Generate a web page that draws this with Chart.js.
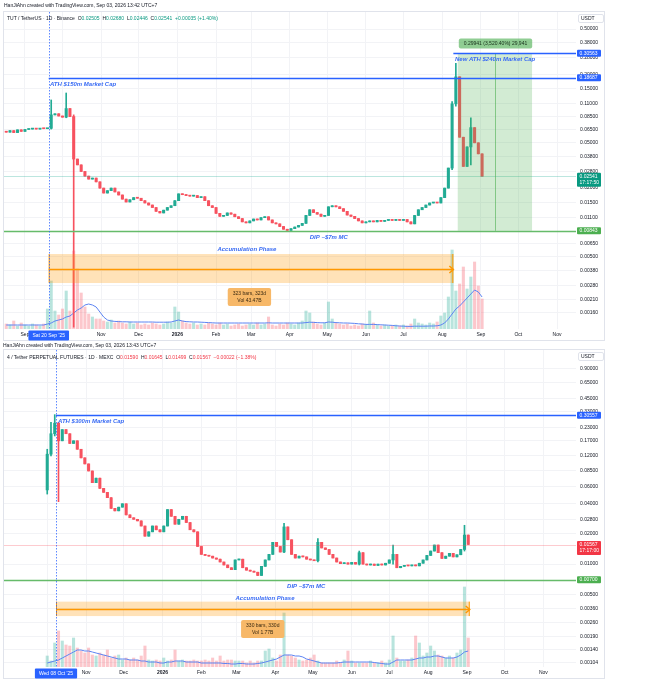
<!DOCTYPE html>
<html>
<head>
<meta charset="utf-8">
<script src="https://cdn.jsdelivr.net/npm/chart.js@4.4.1/dist/chart.umd.min.js"></script>
<style>
  body { margin: 0; background: #fff; }
  #page { position: relative; width: 654px; height: 680px; overflow: hidden; font-family: "Liberation Sans", Arial, sans-serif; }
  .chart { position: absolute; left: 0; }
  .txt { position: absolute; font-size: 5px; line-height: 6px; color: #131722; white-space: nowrap; }
  .up { color: #089981; }
  .dn { color: #f23645; }
</style>
</head>
<body>
<div id="page">
  <canvas id="topChart" class="chart" width="606" height="342" style="top:0"></canvas>
  <canvas id="botChart" class="chart" width="606" height="342" style="top:338px"></canvas>

  <div class="txt" style="left:4px;top:2px">HanJiAhn created with TradingView.com, Sep 03, 2026 13:42 UTC+7</div>
  <div class="txt" style="left:7px;top:15px">TUT / TetherUS · 1D · Binance&nbsp; O<span class="up">0.02505</span>&nbsp; H<span class="up">0.02680</span>&nbsp; L<span class="up">0.02446</span>&nbsp; C<span class="up">0.02541</span>&nbsp; <span class="up">+0.00035 (+1.40%)</span></div>

  <div class="txt" style="left:3px;top:342px">HanJiAhn created with TradingView.com, Sep 03, 2026 13:43 UTC+7</div>
  <div class="txt" style="left:7px;top:354px">4 / Tether PERPETUAL FUTURES · 1D · MEXC&nbsp; O<span class="dn">0.01590</span>&nbsp; H<span class="dn">0.01645</span>&nbsp; L<span class="dn">0.01499</span>&nbsp; C<span class="dn">0.01567</span>&nbsp; <span class="dn">−0.00022 (−1.38%)</span></div>
</div>

<script>
// days are counted from 1 Sep 2025, one candle every 3 days
const BAR_STEP = 3;
const MONTH_DAYS = [0, 30, 61, 91, 122, 153, 181, 212, 242, 273, 303, 334, 365, 395, 426];
const MONTH_LABELS = ['Sep', 'Oct', 'Nov', 'Dec', '2026', 'Feb', 'Mar', 'Apr', 'May', 'Jun', 'Jul', 'Aug', 'Sep', 'Oct', 'Nov'];

// ---- TUT / TetherUS (Binance) ----
const topStartDay = -15;
const topFirstOpen = 0.0630;
const topClose = [
  0.0620, 0.0640, 0.0615, 0.0650, 0.0630, 0.0655, 0.0660, 0.0665, 0.0660, 0.0668, 0.0665, 0.0670,
  0.0880, 0.0900, 0.0860, 0.0840, 0.1000, 0.0850, 0.0360, 0.0320, 0.0280, 0.0255, 0.0240, 0.0245,
  0.0227, 0.0200, 0.0181, 0.0190, 0.0200, 0.0185, 0.0174, 0.0160, 0.0151, 0.0158, 0.0165, 0.0163,
  0.0155, 0.0148, 0.0142, 0.0135, 0.0125, 0.0121, 0.0128, 0.0135, 0.0140, 0.0155, 0.0178, 0.0175,
  0.0172, 0.0170, 0.0172, 0.0165, 0.0168, 0.0155, 0.0140, 0.0135, 0.0120, 0.0113, 0.0115, 0.0121,
  0.0118, 0.0112, 0.0108, 0.0101, 0.0099, 0.0103, 0.0107, 0.0105, 0.0110, 0.0112, 0.0105, 0.0099,
  0.0097, 0.0092, 0.0087, 0.0085, 0.0088, 0.0091, 0.0094, 0.0098, 0.0115, 0.0129, 0.0122, 0.0118,
  0.0113, 0.0115, 0.0137, 0.0140, 0.0137, 0.0132, 0.0125, 0.0116, 0.0113, 0.0108, 0.0103, 0.0099,
  0.0101, 0.0103, 0.0101, 0.0104, 0.0102, 0.0104, 0.0105, 0.0104, 0.0106, 0.0104, 0.0106, 0.0101,
  0.0097, 0.0115, 0.0129, 0.0135, 0.0142, 0.0148, 0.0150, 0.0148, 0.0165, 0.0200, 0.0300, 0.1100,
  0.1900, 0.0560, 0.0310, 0.0460, 0.0680, 0.0500, 0.0400, 0.0254
];
// [day, high, low] for the candles with visible wicks
const topWicks = [[21, 0.119, 0.066], [33, 0.137, 0.083], [39, 0.088, 0.0012], [342, 0.115, 0.029], [345, 0.25, 0.105], [357, 0.083, 0.032]];
const topVolume = [
  125, 100, 200, 75, 150, 100, 75, 125, 100, 75, 125, 500,
  1200, 450, 350, 500, 950, 450, 1950, 1500, 900, 550, 375, 300,
  250, 250, 200, 175, 225, 150, 200, 150, 125, 175, 125, 150,
  100, 125, 100, 150, 125, 100, 125, 175, 150, 550, 425, 200,
  150, 125, 150, 100, 125, 100, 150, 125, 100, 150, 100, 125,
  75, 100, 125, 75, 100, 125, 100, 150, 100, 125, 300, 100,
  75, 125, 100, 150, 125, 100, 150, 200, 450, 400, 175, 125,
  100, 150, 675, 250, 150, 125, 100, 125, 75, 100, 75, 125,
  100, 450, 150, 100, 75, 100, 75, 75, 100, 75, 100, 75,
  125, 250, 150, 125, 100, 150, 125, 175, 325, 400, 800, 1975,
  950, 1125, 1550, 1000, 1300, 1675, 1075, 750
];
const topVolMA = [
  100, 100, 100, 100, 100, 100, 100, 100, 100, 100, 100, 125,
  150, 200, 225, 250, 300, 325, 400, 475, 525, 600, 625, 600,
  550, 425, 300, 225, 200, 190, 185, 180, 180, 175, 175, 175,
  175, 175, 175, 175, 170, 170, 170, 170, 175, 200, 225, 200,
  185, 180, 175, 175, 170, 165, 160, 155, 150, 150, 150, 150,
  150, 150, 150, 150, 150, 150, 150, 150, 150, 150, 155, 150,
  150, 150, 150, 150, 150, 150, 150, 150, 160, 170, 165, 160,
  155, 155, 175, 170, 160, 155, 150, 150, 145, 140, 130, 125,
  115, 115, 115, 110, 105, 100, 95, 90, 80, 75, 70, 65,
  65, 70, 70, 70, 70, 75, 75, 80, 100, 150, 250, 375,
  500, 575, 675, 775, 875, 975, 925, 800
];
const topPriceTicks = [0.5, 0.38, 0.28, 0.2, 0.15, 0.11, 0.085, 0.065, 0.05, 0.038, 0.028, 0.02, 0.015, 0.011,
  0.0065, 0.005, 0.0038, 0.0028, 0.0021, 0.0016];

// ---- 4 / Tether perpetual (MEXC) ----
const botStartDay = 30;
const botFirstOpen = 0.055;
const botClose = [
  0.125, 0.200, 0.255, 0.170, 0.220, 0.200, 0.160, 0.170, 0.140, 0.115, 0.100, 0.085,
  0.065, 0.072, 0.057, 0.052, 0.046, 0.036, 0.034, 0.037, 0.040, 0.031, 0.029, 0.028,
  0.027, 0.024, 0.019, 0.021, 0.024, 0.022, 0.021, 0.024, 0.035, 0.030, 0.025, 0.028,
  0.030, 0.026, 0.022, 0.021, 0.015, 0.0125, 0.0122, 0.0120, 0.0115, 0.0112, 0.0105, 0.0098,
  0.0092, 0.0088, 0.0110, 0.0112, 0.0092, 0.0087, 0.0085, 0.0083, 0.0077, 0.0095, 0.0110, 0.0125,
  0.0165, 0.0150, 0.0132, 0.0235, 0.0175, 0.0125, 0.0115, 0.0120, 0.0118, 0.0112, 0.0110, 0.0108,
  0.0165, 0.0145, 0.0140, 0.0125, 0.0115, 0.0105, 0.0101, 0.0103, 0.0100, 0.0104, 0.0100, 0.0130,
  0.0100, 0.0098, 0.0100, 0.0097, 0.0100, 0.0098, 0.0102, 0.0110, 0.0125, 0.0092, 0.0095, 0.0097,
  0.0096, 0.0098, 0.0096, 0.0102, 0.0110, 0.0122, 0.0135, 0.0155, 0.0130, 0.0114, 0.0120, 0.0128,
  0.0118, 0.0124, 0.0140, 0.0195, 0.0157
];
const botWicks = [[30, 0.14, 0.050], [33, 0.26, 0.12], [36, 0.31, 0.19], [39, 0.26, 0.042], [219, 0.0255, 0.013],
  [246, 0.018, 0.0105], [279, 0.0135, 0.0098], [306, 0.0155, 0.010], [363, 0.0244, 0.0135]];
const botVolume = [
  5.5, 3, 12, 18, 13, 11, 10.5, 14.5, 9.5, 8, 7, 9.5,
  6, 5.5, 7, 6, 8.5, 4.5, 5.5, 6, 3.5, 4.5, 3.5, 4.5,
  3.5, 5.5, 10.5, 3.5, 3, 3.5, 3, 4.5, 3, 3.5, 8.5, 3,
  3.5, 3, 3, 3.5, 3, 3, 3.5, 3, 4.5, 3, 5.5, 3,
  3.5, 3.5, 3, 3, 3, 2, 3, 2, 3, 3, 8, 9,
  4.5, 3, 6, 27, 6, 5.5, 4.5, 3.5, 3, 3.5, 4.5, 6,
  3, 2, 2, 2, 2, 3, 2, 3.5, 8, 3, 2, 2,
  2, 2, 3, 2, 2, 3, 2, 3.5, 15.5, 4.5, 3, 3,
  3.5, 4.5, 15.5, 12, 5.5, 7, 10.5, 8, 6, 5.5, 4.5, 5.5,
  4.5, 7, 8.5, 40, 14.5
];
const botVolMA = [
  2, 2.5, 3, 3.5, 4.5, 5.5, 6.5, 7.5, 8.5, 8.5, 8, 8,
  7.5, 7, 6.5, 6, 5.5, 5, 4.5, 4, 4, 4, 3.5, 3.5,
  3.5, 3, 3, 2.5, 2.5, 2.5, 2, 2, 2.5, 2.5, 3, 3,
  3, 2.5, 2.5, 2.5, 2.5, 2, 2, 2, 2, 2, 2, 1.75,
  1.75, 1.5, 1.5, 1.75, 1.75, 1.5, 1.5, 1.5, 1.75, 2, 2.5, 3,
  3.5, 4, 5, 6, 6, 6, 5.5, 5.5, 5, 4, 3.5, 3,
  2.5, 2, 2, 2, 2, 2, 2.25, 2.5, 2.5, 2.5, 2.5, 2.5,
  2.5, 2.5, 2.5, 2.25, 2, 1.75, 1.5, 1.5, 2.5, 3.5, 3.5, 3.5,
  3.5, 3.5, 4, 4.5, 4.5, 5, 5, 5.5, 5.5, 5, 4.5, 4.5,
  4.5, 5, 6, 7.5, 8
];
const botPriceTicks = [0.9, 0.65, 0.45, 0.33, 0.23, 0.17, 0.12, 0.085, 0.06, 0.04, 0.028, 0.02, 0.01,
  0.005, 0.0036, 0.0026, 0.0019, 0.0014, 0.00104];

const UP = '#22ab94';
const DOWN = '#f7525f';
const UP_VOL = 'rgba(34,171,148,0.32)';
const DOWN_VOL = 'rgba(247,82,95,0.32)';
const BLUE = '#2962ff';
const NOTE_BLUE = '#3a6cf4';
const GREEN_LINE = '#66bb6a';
const GRID = '#f2f3f6';
const FONT = '"Liberation Sans", Arial, sans-serif';

function buildCandles(startDay, firstOpen, closes, wicks) {
  return closes.map((c, i) => {
    const day = startDay + i * BAR_STEP;
    const o = i === 0 ? firstOpen : closes[i - 1];
    let hi = Math.max(o, c), lo = Math.min(o, c);
    const w = wicks.find(w => w[0] === day);
    if (w) { hi = Math.max(hi, w[1]); lo = Math.min(lo, w[2]); }
    return { day, o, c, hi, lo, up: c >= o };
  });
}

function line(ctx, x0, y0, x1, y1) {
  ctx.beginPath(); ctx.moveTo(x0, y0); ctx.lineTo(x1, y1); ctx.stroke();
}

function rrect(ctx, x, y, w, h, r) {
  ctx.beginPath();
  if (ctx.roundRect) ctx.roundRect(x, y, w, h, r); else ctx.rect(x, y, w, h);
}

function tag(ctx, x, y, lines, bg) {
  const h = lines.length > 1 ? 14 : 7;
  ctx.fillStyle = bg;
  rrect(ctx, x, y - 3.5, 24, h, 1); ctx.fill();
  ctx.fillStyle = '#fff';
  ctx.font = '5px ' + FONT;
  ctx.textAlign = 'left';
  ctx.textBaseline = 'middle';
  lines.forEach((t, i) => ctx.fillText(t, x + 2.5, y + i * 6.5));
}

function notesPlugin(n) {
  return {
    id: 'notes',
    afterDatasetsDraw(chart) {
      const { ctx, chartArea: a, scales: { x, y } } = chart;
      const px = d => x.getPixelForValue(d);
      const py = v => y.getPixelForValue(v);
      ctx.save();
      ctx.beginPath();
      ctx.rect(a.left, a.top, a.right - a.left, a.bottom - a.top);
      ctx.clip();

      // last price line
      const lp = Math.round(py(n.lastPrice)) + 0.5;
      ctx.strokeStyle = n.lastLine; ctx.lineWidth = 1;
      line(ctx, a.left, lp, a.right, lp);

      // price range measurement (green)
      if (n.zone) {
        const z = n.zone;
        const x0 = px(z.from), x1 = px(z.to), y0 = py(z.hi), y1 = py(z.lo);
        ctx.fillStyle = 'rgba(76,175,80,0.25)';
        ctx.fillRect(x0, y0, x1 - x0, y1 - y0);
        ctx.strokeStyle = 'rgba(76,175,80,0.6)';
        const mx = Math.round(px(z.mid)) + 0.5;
        line(ctx, mx, y0, mx, y1);
        ctx.font = '5px ' + FONT;
        const w = ctx.measureText(z.label).width + 10;
        const cy = py(z.labelPrice);
        ctx.fillStyle = 'rgba(76,175,80,0.62)';
        rrect(ctx, mx - w / 2, cy - 5, w, 10, 2); ctx.fill();
        ctx.fillStyle = '#17301a'; ctx.textAlign = 'center'; ctx.textBaseline = 'middle';
        ctx.fillText(z.label, mx, cy);
      }

      // accumulation date range (orange)
      const ac = n.accum;
      const ax0 = px(ac.from), ax1 = px(ac.to), ay0 = py(ac.hi), ay1 = py(ac.lo);
      const aym = Math.round((ay0 + ay1) / 2) + 0.5;
      ctx.fillStyle = 'rgba(255,152,0,0.28)';
      ctx.fillRect(ax0, ay0, ax1 - ax0, ay1 - ay0);
      ctx.strokeStyle = '#ff9800';
      ctx.lineWidth = 1;
      line(ctx, ax0 + 0.5, ay0, ax0 + 0.5, ay1);
      line(ctx, ax1 - 0.5, ay0, ax1 - 0.5, ay1);
      ctx.lineWidth = 1.5;
      line(ctx, ax0, aym, ax1, aym);
      ctx.beginPath();
      ctx.moveTo(ax1 - 4, aym - 3.5); ctx.lineTo(ax1, aym); ctx.lineTo(ax1 - 4, aym + 3.5);
      ctx.stroke();

      ctx.font = 'italic 600 6px ' + FONT;
      ctx.fillStyle = NOTE_BLUE; ctx.textAlign = 'center'; ctx.textBaseline = 'middle';
      ctx.fillText(ac.title, px(ac.titleDay), py(ac.titlePrice));

      ctx.font = '5px ' + FONT;
      const bw = Math.max(...ac.box.map(t => ctx.measureText(t).width)) + 10;
      const bh = ac.box.length * 7 + 4;
      const bx = px(ac.boxDay), by = py(ac.boxPrice);
      ctx.fillStyle = '#f7b868';
      rrect(ctx, bx - bw / 2, by - bh / 2, bw, bh, 2); ctx.fill();
      ctx.fillStyle = '#3b2a12';
      ac.box.forEach((t, i) => ctx.fillText(t, bx, by - (ac.box.length - 1) * 3.5 + i * 7));

      // levels with captions
      n.levels.forEach(l => {
        const ly = Math.round(py(l.price)) + 0.5;
        ctx.strokeStyle = l.color; ctx.lineWidth = 1.5;
        line(ctx, l.from === null ? a.left : px(l.from), ly, a.right, ly);
        ctx.font = 'italic 600 6px ' + FONT;
        ctx.fillStyle = NOTE_BLUE; ctx.textAlign = 'left'; ctx.textBaseline = 'middle';
        ctx.fillText(l.text, px(l.textDay), ly + 5.5);
      });

      // date crosshair
      const cx = Math.round(px(n.crossDay)) + 0.5;
      ctx.setLineDash([1.5, 1.5]);
      ctx.strokeStyle = 'rgba(41,98,255,0.75)'; ctx.lineWidth = 1;
      line(ctx, cx, a.top, cx, a.bottom);
      ctx.setLineDash([]);
      ctx.restore();
    },
    afterDraw(chart) {
      const { ctx, chartArea: a, scales: { x, y } } = chart;
      const px = d => x.getPixelForValue(d);
      const py = v => y.getPixelForValue(v);
      ctx.save();

      // frame
      ctx.strokeStyle = '#e0e3eb'; ctx.lineWidth = 1;
      ctx.strokeRect(a.left - 0.5, a.top - 0.5, 605 - a.left, chart.height - a.top - 1);

      // price tags on the axis
      n.levels.forEach(l => tag(ctx, a.right + 1, py(l.price), [l.tag], l.tagColor));
      tag(ctx, a.right + 1, py(n.lastPrice), n.lastTag, n.lastColor);

      // currency box
      ctx.fillStyle = '#fff'; ctx.strokeStyle = '#e0e3eb';
      rrect(ctx, a.right + 2.5, a.top + 2.5, 25, 8, 1.5); ctx.fill(); ctx.stroke();
      ctx.fillStyle = '#131722'; ctx.font = '5px ' + FONT;
      ctx.textAlign = 'left'; ctx.textBaseline = 'middle';
      ctx.fillText('USDT', a.right + 5, a.top + 6.5);

      // date tag on the time axis
      const cx = px(n.crossDay);
      const tw = ctx.measureText(n.crossLabel).width + 8;
      ctx.fillStyle = BLUE;
      rrect(ctx, cx - tw / 2, a.bottom + 1.5, tw, 10, 1); ctx.fill();
      ctx.fillStyle = '#fff'; ctx.textAlign = 'center';
      ctx.fillText(n.crossLabel, cx, a.bottom + 6.5);
      ctx.restore();
    }
  };
}

function makePanel(canvasId, p) {
  const candles = buildCandles(p.startDay, p.firstOpen, p.closes, p.wicks);
  const days = candles.map(c => c.day);
  const monthIdx = p.monthIdx;
  return new Chart(document.getElementById(canvasId), {
    type: 'bar',
    data: {
      datasets: [
        {
          label: 'body', yAxisID: 'y', grouped: false, barThickness: 2.4, minBarLength: 1,
          data: candles.map(c => ({ x: c.day, y: [Math.min(c.o, c.c), Math.max(c.o, c.c)] })),
          backgroundColor: candles.map(c => c.up ? UP : DOWN)
        },
        {
          label: 'wick', yAxisID: 'y', grouped: false, barThickness: 1,
          data: candles.map(c => ({ x: c.day, y: [c.lo, c.hi] })),
          backgroundColor: candles.map(c => c.up ? UP : DOWN)
        },
        {
          type: 'line', label: 'vol MA', yAxisID: 'vol',
          data: days.map((d, i) => ({ x: d, y: p.volMA[i] })),
          borderColor: '#5d84f2', borderWidth: 1, pointRadius: 0, tension: 0
        },
        {
          label: 'volume', yAxisID: 'vol', grouped: false, barThickness: 2.4,
          data: days.map((d, i) => ({ x: d, y: p.volume[i] })),
          backgroundColor: candles.map(c => c.up ? UP_VOL : DOWN_VOL)
        }
      ]
    },
    options: {
      responsive: false,
      animation: false,
      devicePixelRatio: 1,
      layout: { padding: { left: 4, top: 12, right: 0, bottom: 0 } },
      plugins: { legend: { display: false }, tooltip: { enabled: false } },
      scales: {
        x: {
          type: 'linear', position: 'bottom', min: p.xMin, max: p.xMax, bounds: 'data', offset: false,
          afterBuildTicks: s => { s.ticks = monthIdx.map(i => ({ value: MONTH_DAYS[i] })); },
          afterFit: s => { s.height = 13; },
          grid: { color: GRID, drawTicks: false, offset: false },
          border: { display: false },
          ticks: {
            autoSkip: false, maxRotation: 0, padding: 3, color: '#131722',
            font: ctx => ({ size: 5, family: FONT, weight: ctx.tick && ctx.tick.value === 122 ? 'bold' : 'normal' }),
            callback: v => MONTH_LABELS[MONTH_DAYS.indexOf(v)]
          }
        },
        y: {
          type: 'logarithmic', position: 'right', min: p.yMin, max: p.yMax, bounds: 'data', beginAtZero: false,
          afterBuildTicks: s => { s.ticks = p.priceTicks.map(v => ({ value: v })); },
          afterFit: s => { s.width = 30; },
          grid: { color: GRID, drawTicks: false },
          border: { display: false },
          ticks: { autoSkip: false, padding: 4, color: '#131722', font: { size: 5, family: FONT }, callback: v => v.toFixed(5) }
        },
        vol: { type: 'linear', display: false, min: 0, max: p.volMax, beginAtZero: true }
      }
    },
    plugins: [notesPlugin(p.notes)]
  });
}

makePanel('topChart', {
  startDay: topStartDay, firstOpen: topFirstOpen, closes: topClose, wicks: topWicks,
  volume: topVolume, volMA: topVolMA, volMax: 7925, priceTicks: topPriceTicks,
  xMin: -16.8, xMax: 441.2, yMin: 0.001156, yMax: 0.7054,
  monthIdx: [0, 1, 2, 3, 4, 5, 6, 7, 8, 9, 10, 11, 12, 13, 14],
  notes: {
    crossDay: 19, crossLabel: "Sat 20 Sep '25",
    lastPrice: 0.02541, lastLine: 'rgba(34,171,148,0.3)', lastColor: '#089981', lastTag: ['0.02541', '17:17:50'],
    levels: [
      { price: 0.18687, from: 19, color: BLUE, text: 'ATH $150m Market Cap', textDay: 20, tag: '0.18687', tagColor: BLUE },
      { price: 0.30563, from: 343, color: BLUE, text: 'New ATH $240m Market Cap', textDay: 344.3, tag: '0.30563', tagColor: BLUE },
      { price: 0.00843, from: null, color: GREEN_LINE, text: 'DIP ~$7m MC', textDay: 228, tag: '0.00843', tagColor: '#4caf50' }
    ],
    zone: { from: 346.5, to: 406, mid: 376.3, hi: 0.30563, lo: 0.00843, label: '0.29941 (3,520.40%) 29,941', labelPrice: 0.3729 },
    accum: {
      from: 19, to: 343, hi: 0.00527, lo: 0.00293,
      title: 'Accumulation Phase', titleDay: 177.7, titlePrice: 0.00585,
      box: ['323 bars, 323d', 'Vol 43.47B'], boxDay: 179.7, boxPrice: 0.00221
    }
  }
});

makePanel('botChart', {
  startDay: botStartDay, firstOpen: botFirstOpen, closes: botClose, wicks: botWicks,
  volume: botVolume, volMA: botVolMA, volMax: 158.5, priceTicks: botPriceTicks,
  xMin: -4.5, xMax: 452.0, yMin: 0.00094, yMax: 1.37,
  monthIdx: [1, 2, 3, 4, 5, 6, 7, 8, 9, 10, 11, 12, 13, 14],
  notes: {
    crossDay: 37, crossLabel: "Wed 08 Oct '25",
    lastPrice: 0.01567, lastLine: 'rgba(247,82,95,0.3)', lastColor: '#f23645', lastTag: ['0.01567', '17:17:00'],
    levels: [
      { price: 0.30557, from: 37, color: BLUE, text: 'ATH $300m Market Cap', textDay: 38.6, tag: '0.30557', tagColor: BLUE },
      { price: 0.00700, from: null, color: GREEN_LINE, text: 'DIP ~$7m MC', textDay: 221.4, tag: '0.00700', tagColor: '#4caf50' }
    ],
    zone: null,
    accum: {
      from: 37, to: 367.2, hi: 0.00422, lo: 0.00303,
      title: 'Accumulation Phase', titleDay: 203.8, titlePrice: 0.00455,
      box: ['330 bars, 330d', 'Vol 1.77B'], boxDay: 202, boxPrice: 0.00225
    }
  }
});
</script>
</body>
</html>
